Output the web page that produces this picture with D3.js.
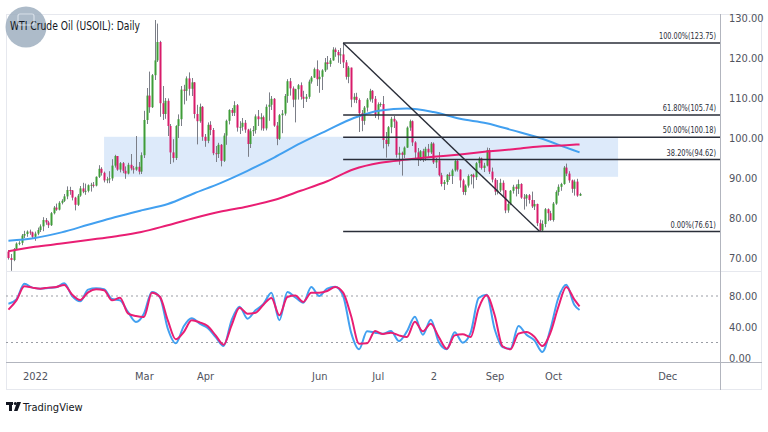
<!DOCTYPE html>
<html>
<head>
<meta charset="utf-8">
<script src="https://cdn.jsdelivr.net/npm/d3@7"></script>
<style>
  body { margin: 0; background: #fff; }
  svg { display: block; }
  text { font-family: "Liberation Sans Narrow", "DejaVu Sans Condensed", Roboto, sans-serif; }
</style>
</head>
<body>
<div id="chart"></div>
<script>
// first bar of the daily series (a Monday), bars are weekdays
const startDate = "2021-12-20";

// daily candles, Dec 20 2021 .. Oct 17 2022
const open = [71.6,70.0,69.5,72.2,73.6,73.8,75.6,76.0,76.6,76.4,
  75.3,76.1,77.0,77.9,79.5,78.9,78.2,81.2,82.6,82.1,83.8,84.3,85.4,87.0,86.9,85.1,83.3,85.6,87.4,86.6,86.8,
  88.2,88.3,88.1,90.3,92.3,91.3,89.4,89.7,89.9,93.1,95.5,92.1,93.7,91.8,91.1,93.3,92.4,92.1,92.8,91.6,
  95.7,104.5,110.6,107.7,115.7,119.4,124.0,108.7,106.0,109.3,103.0,96.4,95.0,103.0,104.7,112.1,111.8,114.9,112.3,113.9,106.0,104.2,107.8,
  100.3,99.3,103.3,102.0,96.2,96.0,98.3,94.3,100.6,104.3,107.0,106.3,108.2,102.6,102.8,103.8,102.1,98.5,101.7,102.0,105.4,
  104.7,105.2,102.4,107.8,108.3,109.8,103.1,99.8,105.7,106.1,110.5,114.2,112.4,109.6,112.2,113.2,110.3,109.8,110.3,114.1,115.1,117.2,
  114.7,115.3,116.9,118.9,118.5,119.4,122.1,121.5,120.7,120.9,118.9,115.3,117.6,109.6,110.3,109.5,106.2,104.3,107.6,109.6,111.8,109.8,
  105.8,108.4,108.5,99.5,98.5,102.7,104.8,104.1,95.8,96.3,95.8,97.6,102.6,104.2,98.9,96.4,94.7,96.7,95.0,97.3,96.4,
  98.6,93.9,94.4,90.7,88.5,89.0,90.8,90.5,91.9,94.3,92.1,89.4,86.5,88.1,90.5,90.8,90.2,93.7,94.9,92.5,93.1,97.0,91.6,
  89.6,86.6,86.9,88.8,86.9,81.9,83.5,86.8,87.8,87.3,88.5,85.1,84.9,85.7,84.5,82.9,83.5,78.7,76.9,78.5,82.2,81.2,
  79.5,83.6,86.5,87.8,88.5,92.6,91.1,89.4,87.3,89.1,85.6];
const high = [72.0,71.0,72.5,73.9,74.2,76.0,76.8,76.9,77.1,76.6,
  76.6,77.6,78.4,80.2,80.0,79.3,81.5,83.0,83.6,84.2,84.7,86.0,87.9,87.8,87.0,85.3,86.0,88.0,88.8,88.6,88.4,
  88.8,89.0,90.4,93.2,92.7,91.6,90.3,91.7,94.7,95.8,95.5,94.0,94.0,92.9,93.8,96.0,93.0,100.5,94.0,96.4,
  106.8,112.5,116.6,116.0,129.5,128.6,124.3,113.0,110.0,109.9,103.5,99.7,103.2,105.9,113.0,113.3,115.4,116.4,115.0,114.0,108.3,108.6,108.0,
  101.0,103.9,104.2,102.5,98.0,98.8,98.5,101.2,104.6,107.2,107.5,109.2,108.5,104.2,105.0,104.5,102.3,102.4,103.0,105.9,107.0,
  106.2,105.6,108.4,111.4,110.5,110.0,104.0,106.0,107.0,111.0,114.7,115.0,112.9,112.3,113.5,113.9,111.8,111.0,114.6,115.5,117.6,119.4,
  116.9,117.2,120.0,120.5,120.0,122.7,122.6,122.0,122.5,123.75,119.5,118.0,117.6,111.2,111.3,109.9,107.0,108.0,110.0,112.3,112.0,110.5,
  108.9,108.9,110.5,101.5,103.0,105.3,105.5,104.4,97.8,96.6,97.9,102.9,104.6,104.4,99.2,97.5,97.0,97.3,97.8,98.5,99.0,
  98.9,95.0,96.5,91.3,89.5,91.0,91.4,92.3,94.6,94.5,92.2,89.8,88.4,90.9,91.0,91.1,94.0,95.3,95.1,93.8,97.6,97.5,92.6,
  90.0,89.5,89.8,89.4,87.0,84.0,87.0,88.3,88.4,89.6,88.7,86.0,86.0,86.0,86.6,84.5,83.6,79.6,79.4,82.5,82.4,81.8,
  84.0,86.9,88.4,88.8,93.0,93.6,91.7,89.6,89.6,89.8,86.3];
const low = [69.6,66.8,69.2,72.0,73.2,73.2,75.0,75.3,75.8,74.9,
  74.3,75.7,76.5,76.7,78.3,77.5,78.0,80.9,81.8,81.9,83.4,84.0,84.7,85.8,84.4,81.9,83.0,85.3,86.2,85.8,86.4,
  86.6,87.6,87.9,90.0,90.6,88.9,88.7,88.7,89.3,92.6,91.8,91.4,91.2,89.8,90.9,91.9,91.1,91.8,90.9,91.0,
  95.0,103.5,106.3,107.5,114.5,119.0,105.3,104.5,104.8,100.5,93.5,93.9,94.5,100.0,103.0,108.4,109.3,110.6,110.5,104.9,98.4,103.8,99.3,
  97.8,98.7,100.7,95.7,94.0,95.0,92.9,94.0,98.3,103.4,105.5,105.5,101.6,101.0,101.8,101.3,95.3,97.5,100.5,101.1,103.0,
  101.9,101.8,101.9,104.3,107.0,102.8,98.2,99.5,101.2,105.6,108.8,110.6,107.7,103.9,109.6,109.6,107.5,109.0,109.8,113.6,115.0,113.0,
  111.3,112.0,116.5,117.1,117.8,119.3,120.3,118.8,118.5,117.5,114.6,113.7,107.7,108.8,108.7,101.5,101.7,103.3,106.6,109.1,108.8,105.0,
  104.6,107.8,97.4,95.1,97.9,101.2,102.5,95.1,93.3,90.6,95.0,97.5,101.8,98.0,94.5,93.0,94.3,94.0,94.3,95.3,96.0,
  93.5,92.5,90.4,87.9,87.0,88.3,89.5,88.5,91.6,91.6,87.6,85.8,85.7,87.6,88.4,87.4,89.5,92.6,92.1,91.5,92.9,91.0,88.9,
  85.7,85.9,86.5,85.3,81.2,81.3,83.2,86.1,85.4,86.0,84.8,82.1,82.9,83.6,82.5,82.0,78.0,76.61,76.7,77.7,79.2,79.3,
  79.1,83.3,85.6,86.8,88.3,90.5,88.8,86.3,85.6,85.3,85.5];
const close = [70.0,69.5,72.2,73.6,73.8,75.6,76.0,76.6,76.4,75.3,
  76.1,77.0,77.9,79.5,78.9,78.2,81.2,82.6,82.1,83.8,84.3,85.4,87.0,86.9,85.1,83.3,85.6,87.4,86.6,86.8,88.2,
  88.3,88.1,90.3,92.3,91.3,89.4,89.7,89.9,93.1,95.5,92.1,93.7,91.8,91.1,93.3,92.4,92.1,92.8,91.6,95.7,
  104.5,110.6,107.7,115.7,119.4,124.0,108.7,106.0,109.3,103.0,96.4,95.0,103.0,104.7,112.1,111.8,114.9,112.3,113.9,106.0,104.2,107.8,100.3,
  99.3,103.3,102.0,96.2,96.0,98.3,94.3,100.6,104.3,107.0,106.3,108.2,102.6,102.8,103.8,102.1,98.5,101.7,102.0,105.4,104.7,
  105.2,102.4,107.8,108.3,109.8,103.1,99.8,105.7,106.1,110.5,114.2,112.4,109.6,112.2,113.2,110.3,109.8,110.3,114.1,115.1,117.2,114.7,
  115.3,116.9,118.9,118.5,119.4,122.1,121.5,120.7,120.9,118.9,115.3,117.6,109.6,110.3,109.5,106.2,104.3,107.6,109.6,111.8,109.8,105.8,
  108.4,108.5,99.5,98.5,102.7,104.8,104.1,95.8,96.3,95.8,97.6,102.6,104.2,98.9,96.4,94.7,96.7,95.0,97.3,96.4,98.6,
  93.9,94.4,90.7,88.5,89.0,90.8,90.5,91.9,94.3,92.1,89.4,86.5,88.1,90.5,90.8,90.2,93.7,94.9,92.5,93.1,97.0,91.6,89.6,
  86.6,86.9,88.8,86.9,81.9,83.5,86.8,87.8,87.3,88.5,85.1,84.9,85.7,84.5,82.9,83.5,78.7,76.9,78.5,82.2,81.2,79.5,
  83.6,86.5,87.8,88.5,92.6,91.1,89.4,87.3,89.1,85.6,86.0];

// moving averages, read every 10 bars
const maBars = [0,10,20,30,40,50,60,70,80,90,100,110,120,130,140,150,160,170,180,190,200,210,215];
const ma100 = [74.3,75.0,76.4,78.3,80.2,81.9,83.5,86.2,88.8,91.8,95.1,98.7,101.9,105.0,106.9,107.4,106.5,104.8,103.7,101.9,100.0,97.6,96.4];
const ma200 = [71.7,72.8,73.6,74.5,75.4,76.5,78.2,80.0,81.6,82.9,84.5,86.8,89.2,92.2,93.8,94.6,95.3,95.9,96.6,97.2,97.9,98.2,98.4];

// stochastic %K / %D, read every 3 bars
const stochBars = d3.range(0, 214, 3).concat([215]);
const stochK = [70.1,75.7,95.9,90.8,89.5,90.3,91.2,96.3,80.0,73.1,88.2,89.9,88.6,76.1,74.4,59.4,46.5,57.2,85.2,78.7,
  37.8,18.9,40.9,51.2,44.3,38.7,27.1,15.5,48.6,66.2,50.8,61.5,69.7,84.3,48.6,85.2,78.3,71.4,91.6,80.0,
  89.5,92.0,80.0,32.7,11.2,34.4,32.7,31.4,34.8,21.9,34.4,53.3,30.1,49.5,20.6,11.2,33.1,19.8,32.7,77.4,
  81.7,37.8,14.2,12.0,41.3,30.1,22.8,7.7,37.0,77.4,94.6,68.8,61.9];
const stochD = [62.4,74.4,92.5,90.8,89.5,90.8,91.6,94.2,81.7,74.8,84.7,88.6,87.3,74.4,77.8,57.6,54.2,52.9,84.3,79.1,
  48.6,24.1,33.5,48.6,46.0,41.3,29.2,17.2,42.2,65.0,57.2,58.5,68.8,77.4,55.1,78.7,80.5,72.3,84.3,84.3,
  86.5,91.6,84.3,54.2,18.5,18.9,34.8,31.0,32.7,29.2,27.1,46.9,34.4,44.3,27.1,12.0,29.2,30.5,27.1,64.1,
  80.9,55.9,15.1,11.2,31.4,33.5,27.5,15.5,32.3,65.8,91.6,75.7,66.7];
const stochLevels = [80, 20];

// fibonacci retracement and support zone
const fibStart = 126, fibEnd = 200;
const fibPct = [100, 61.8, 50, 38.2, 0];
const fibPrice = [123.75, 105.74, 100.18, 94.62, 76.61];
const zoneBars = [36, 229.5];
const zonePrice = [100.3, 90.3];

// axes
const priceTicks = [70, 80, 90, 100, 110, 120, 130];
const stochTicks = [0, 40, 80];
const timeTickDates = ["2022-01-03","2022-03-01","2022-04-01","2022-06-01","2022-07-01","2022-08-01","2022-09-01","2022-10-03","2022-12-01"];
const timeTickLabels = ["2022","Mar","Apr","Jun","Jul","2","Sep","Oct","Dec"];

// weekday index counted from startDate
function dayIndex(s) {
  const days = Math.round((new Date(s + "T00:00:00Z") - new Date(startDate + "T00:00:00Z")) / 864e5);
  return Math.floor(days / 7) * 5 + Math.min(days % 7, 5);
}

const W = 768, H = 432;
const fL = 6, fR = 762, fT = 14, fB = 390;
const axisX = 720, mainBottom = 271, stochBottom = 362;

const svg = d3.select("#chart").append("svg").attr("width", W).attr("height", H);

const x = d3.scaleLinear().domain([dayIndex("2022-01-03"), dayIndex("2022-10-03")]).range([35, 553]);
const y = d3.scaleLinear().domain([70, 130]).range([258, 18]);
const ys = d3.scaleLinear().domain([0, 100]).range([358, 280.5]);

const defs = svg.append("defs");
defs.append("clipPath").attr("id", "clipMain").append("rect")
  .attr("x", fL).attr("y", fT).attr("width", axisX - fL).attr("height", mainBottom - fT);
defs.append("clipPath").attr("id", "clipStoch").append("rect")
  .attr("x", fL).attr("y", mainBottom + 1).attr("width", axisX - fL).attr("height", stochBottom - mainBottom - 1);

// frame
svg.append("rect").attr("x", fL + 0.5).attr("y", fT + 0.5)
  .attr("width", fR - fL - 1).attr("height", fB - fT - 1)
  .attr("fill", "none").attr("stroke", "#e6e8ee");
svg.append("line").attr("x1", fL).attr("x2", fR).attr("y1", mainBottom + 0.5).attr("y2", mainBottom + 0.5)
  .attr("stroke", "#e6e8ee");

const main = svg.append("g").attr("clip-path", "url(#clipMain)");

// zone
main.append("rect")
  .attr("x", x(zoneBars[0])).attr("width", x(zoneBars[1]) - x(zoneBars[0]))
  .attr("y", y(zonePrice[0])).attr("height", y(zonePrice[1]) - y(zonePrice[0]))
  .attr("fill", "#ddeafa");

// candles
const bars = d3.range(close.length);
const up = i => close[i] >= open[i];
main.append("g").selectAll("line").data(bars).join("line")
  .attr("x1", i => Math.round(x(i)) + 0.5).attr("x2", i => Math.round(x(i)) + 0.5)
  .attr("y1", i => y(high[i])).attr("y2", i => y(low[i]))
  .attr("stroke", "#7b7e87").attr("stroke-width", 1);
main.append("g").selectAll("rect").data(bars).join("rect")
  .attr("x", i => Math.round(x(i)) - 0.5).attr("width", 2)
  .attr("y", i => y(Math.max(open[i], close[i])))
  .attr("height", i => Math.max(1, Math.abs(y(open[i]) - y(close[i]))))
  .attr("fill", i => up(i) ? "#3f9d38" : "#d81b6a");

// moving averages
const maLine = vals => d3.line().curve(d3.curveMonotoneX)
  .x((d, i) => x(maBars[i])).y(d => y(d))(vals);
main.append("path").attr("d", maLine(ma100)).attr("fill", "none").attr("stroke", "#42a0f0").attr("stroke-width", 2);
main.append("path").attr("d", maLine(ma200)).attr("fill", "none").attr("stroke", "#e91e73").attr("stroke-width", 2);

// fibonacci levels
fibPrice.forEach((p, i) => {
  main.append("line").attr("x1", x(fibStart)).attr("x2", axisX)
    .attr("y1", y(p)).attr("y2", y(p))
    .attr("stroke", "#2a2e39").attr("stroke-width", 1.6);
  const label = fibPct[i].toFixed(2) + "%(" + p.toFixed(2) + ")";
  svg.append("text").attr("x", 716).attr("y", y(p) - 4)
    .attr("text-anchor", "end").attr("font-size", 8.5).attr("fill", "#2a2e39")
    .attr("textLength", label.length * 3.8).attr("lengthAdjust", "spacingAndGlyphs")
    .text(label);
});
main.append("line")
  .attr("x1", x(fibStart)).attr("y1", y(fibPrice[0]))
  .attr("x2", x(fibEnd)).attr("y2", y(fibPrice[4]))
  .attr("stroke", "#2a2e39").attr("stroke-width", 1.4);

// stochastic pane
const stoch = svg.append("g").attr("clip-path", "url(#clipStoch)");
stochLevels.forEach(v => {
  stoch.append("line").attr("x1", fL).attr("x2", axisX).attr("y1", ys(v)).attr("y2", ys(v))
    .attr("stroke", "#9a9da5").attr("stroke-dasharray", "2,3");
});
const stLine = vals => d3.line().curve(d3.curveMonotoneX)
  .x((d, i) => x(stochBars[i])).y(d => ys(d))(vals);
stoch.append("path").attr("d", stLine(stochK)).attr("fill", "none").attr("stroke", "#42a0f0").attr("stroke-width", 2);
stoch.append("path").attr("d", stLine(stochD)).attr("fill", "none").attr("stroke", "#e91e73").attr("stroke-width", 2);

// axis lines
svg.append("line").attr("x1", axisX + 0.5).attr("x2", axisX + 0.5).attr("y1", fT).attr("y2", fB)
  .attr("stroke", "#b2b5be");
svg.append("line").attr("x1", fL).attr("x2", fR).attr("y1", stochBottom + 0.5).attr("y2", stochBottom + 0.5)
  .attr("stroke", "#b2b5be");

// price axis
const styleAxis = g => {
  g.select(".domain").remove();
  g.selectAll("text").attr("fill", "#50535e").attr("font-size", 11)
    .style("font-family", '"Liberation Sans Narrow", "DejaVu Sans Condensed", Roboto, sans-serif');
};
svg.append("g").attr("transform", `translate(${axisX},0)`)
  .call(d3.axisRight(y).tickValues(priceTicks).tickSize(0).tickPadding(9).tickFormat(d3.format(".2f")))
  .call(styleAxis);
svg.append("g").attr("transform", `translate(${axisX},0)`)
  .call(d3.axisRight(ys).tickValues(stochTicks).tickSize(0).tickPadding(9).tickFormat(d3.format(".2f")))
  .call(styleAxis);

// time axis
svg.append("g").attr("transform", `translate(0,${stochBottom})`)
  .call(d3.axisBottom(x).tickValues(timeTickDates.map(dayIndex)).tickSize(0).tickPadding(10)
    .tickFormat((d, i) => timeTickLabels[i]))
  .call(styleAxis);

// watermark badge behind the title
svg.append("circle").attr("cx", 26).attr("cy", 27).attr("r", 20.5)
  .attr("fill", "#9fafc0").attr("opacity", 0.85);
svg.append("text").attr("x", 10).attr("y", 30).attr("font-size", 12.5).attr("fill", "#131722")
  .attr("textLength", 130).attr("lengthAdjust", "spacingAndGlyphs")
  .text("WTI Crude Oil (USOIL): Daily");
svg.append("rect").attr("x", 18).attr("y", 14).attr("width", 16).attr("height", 11).attr("rx", 2)
  .attr("fill", "none").attr("stroke", "#e4eaf1").attr("stroke-width", 1.2).attr("opacity", 0.8);

// TradingView logo
const logo = svg.append("g").attr("fill", "#131722");
logo.append("rect").attr("x", 6).attr("y", 402).attr("width", 7).attr("height", 3);
logo.append("rect").attr("x", 9).attr("y", 402).attr("width", 3).attr("height", 9);
logo.append("circle").attr("cx", 15.3).attr("cy", 403.5).attr("r", 1.5);
logo.append("polygon").attr("points", "17,402 21,402 17.5,411 14,411");
svg.append("text").attr("x", 23).attr("y", 411).attr("font-size", 11).attr("fill", "#131722")
  .text("TradingView");
</script>
</body>
</html>
